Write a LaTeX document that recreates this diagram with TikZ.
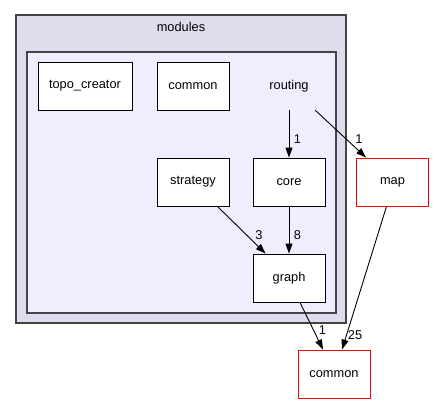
\documentclass[tikz,border=0pt]{standalone}
\usepackage{fontspec}
\setmainfont{Liberation Sans}
\usetikzlibrary{arrows.meta}
\definecolor{outerfill}{HTML}{DDDDEE}
\definecolor{innerfill}{HTML}{EEEEFF}
\definecolor{clusterline}{HTML}{444444}
\begin{document}
\begin{tikzpicture}[x=1pt,y=-1pt,
  every node/.style={font=\fontsize{12.8}{14}\selectfont, inner sep=0pt},
  cluster/.style={draw=clusterline, line width=1.6pt, rectangle},
  dirbox/.style={draw=black, fill=white, line width=0.9pt, minimum width=72pt, minimum height=48pt},
  extbox/.style={draw=red, fill=white, line width=0.9pt, minimum width=72pt, minimum height=48pt},
  edge/.style={draw=black, line width=0.9pt, -{Triangle[length=10pt,width=7pt]}},
  elabel/.style={font=\fontsize{12.8}{14}\selectfont}]
\useasboundingbox (0,0) rectangle (435,404);
% clusters
\node[cluster, fill=outerfill, minimum width=330pt, minimum height=308pt] (modules) at (181,169) {};
\node at (181,27) (moduleslabel) {modules};
\node[cluster, fill=innerfill, minimum width=309pt, minimum height=261pt] (routingcl) at (181.5,182.5) {};
% nodes
\node[dirbox, minimum width=94pt] (topo) at (85,86) {topo\_creator};
\node[dirbox] (commonin) at (193,86) {common};
\node[minimum width=72pt, minimum height=48pt] (routing) at (289,86) {routing};
\node[dirbox] (strategy) at (193,182) {strategy};
\node[dirbox] (core) at (289,182) {core};
\node[dirbox] (graph) at (289,278) {graph};
\node[extbox] (map) at (392.5,182) {map};
\node[extbox] (commonout) at (334,374) {common};
% edges
\draw[edge] (routing.south) -- (core.north);
\node[elabel] (l1) at (297.5,139) {1};
\draw[edge] ([xshift=-10pt]routing.south east) -- ([xshift=10pt]map.north west);
\node[elabel] (l2) at (359,139) {1};
\draw[edge] ([xshift=-12pt]strategy.south east) -- ([xshift=13pt]graph.north west);
\node[elabel] (l3) at (259,235) {3};
\draw[edge] (core.south) -- (graph.north);
\node[elabel] (l4) at (297.5,235) {8};
\draw[edge] ([xshift=11pt]graph.south) -- ([xshift=-11pt]commonout.north);
\node[elabel] (l5) at (322.5,330) {1};
\draw[edge] ([xshift=-6pt]map.south) -- ([xshift=8pt]commonout.north);
\node[elabel] (l6) at (355,335) {25};
\end{tikzpicture}
\end{document}
